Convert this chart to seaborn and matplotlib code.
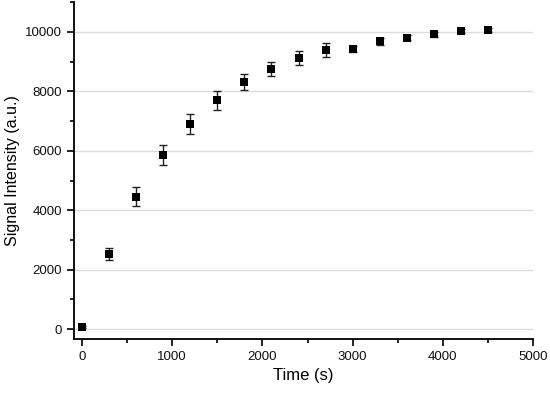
import matplotlib
matplotlib.use("Agg")
import matplotlib.pyplot as plt
import seaborn as sns
import pandas as pd
from matplotlib.ticker import MultipleLocator

# data
time_s = [0, 300, 600, 900, 1200, 1500, 1800, 2100, 2400, 2700, 3000, 3300, 3600, 3900, 4200, 4500]
signal = [80, 2520, 4450, 5850, 6900, 7700, 8300, 8750, 9120, 9400, 9420, 9680, 9800, 9920, 10030, 10070]
err = [40, 200, 320, 330, 350, 320, 270, 230, 230, 240, 90, 130, 80, 80, 60, 60]

df = pd.DataFrame({"t": time_s, "y": signal, "e": err})

sns.set_style("ticks")
plt.rcParams['font.family'] = ['Liberation Sans', 'DejaVu Sans']
plt.rcParams['text.color'] = 'black'
plt.rcParams['axes.labelcolor'] = 'black'
plt.rcParams['xtick.color'] = 'black'
plt.rcParams['ytick.color'] = 'black'

fig = plt.figure(figsize=(5.5, 3.94), dpi=100)
ax = fig.add_axes([0.1345, 0.1396, 0.8345, 0.855])

for yv in range(0, 10001, 2000):
    ax.plot([-100, 5000], [yv, yv], color='#dcdcdc', lw=1, zorder=0)

ax.errorbar(df.t, df.y, yerr=df.e, fmt='none', ecolor='#222222', elinewidth=1,
            capsize=3, capthick=1, zorder=2)
sns.scatterplot(data=df, x="t", y="y", marker='s', s=30, color='black',
                edgecolor='black', linewidth=0, ax=ax, zorder=3)

ax.set_xlim(-90, 5000)
ax.set_ylim(-330, 11000)
ax.xaxis.set_major_locator(MultipleLocator(1000))
ax.xaxis.set_minor_locator(MultipleLocator(500))
ax.yaxis.set_major_locator(MultipleLocator(2000))
ax.yaxis.set_minor_locator(MultipleLocator(1000))
ax.set_yticks(range(0, 10001, 2000))
ax.tick_params(which='major', direction='out', length=5, width=1.2, labelsize=9.5, color='black', labelcolor='#111111')
ax.tick_params(which='minor', direction='out', length=3, width=1.2, color='black')
for s in ['left', 'bottom']:
    ax.spines[s].set_linewidth(1.3)
    ax.spines[s].set_color('black')
sns.despine(ax=ax)

ax.set_xlabel("Time (s)", fontsize=12, color='black')
ax.set_ylabel("Signal Intensity (a.u.)", fontsize=11.5, color='black')

fig.savefig("out.png", dpi=100)
